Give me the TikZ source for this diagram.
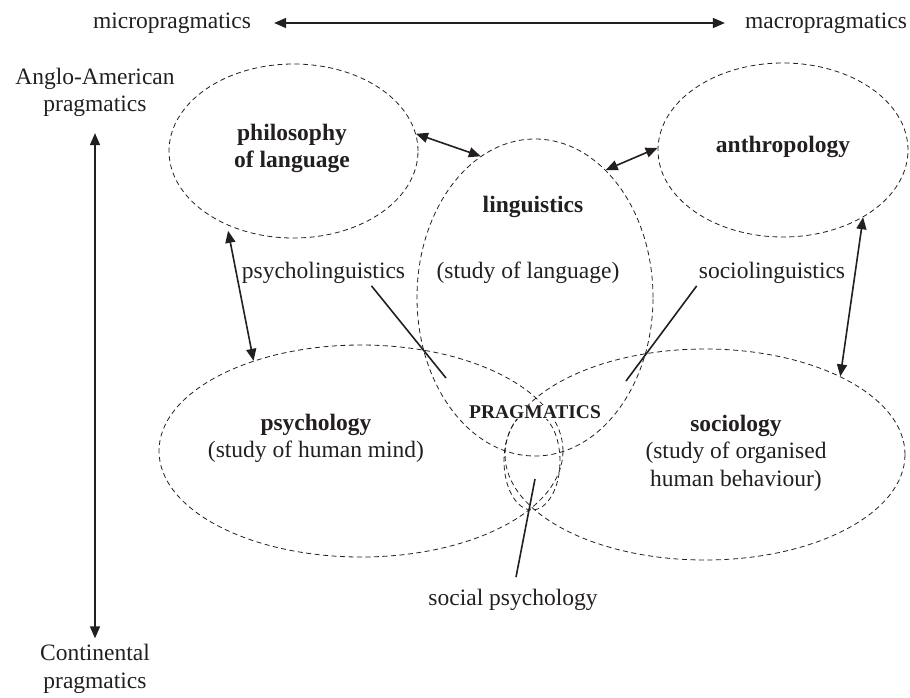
\documentclass[tikz,border=0pt]{standalone}
\usepackage{fontspec}
\setmainfont{Liberation Serif}
\usetikzlibrary{arrows.meta,shapes.geometric}
\definecolor{ink}{HTML}{231F20}
\tikzset{
	field/.style={draw=ink,ellipse,dash pattern=on 5pt off 3.5pt,line width=0.8pt,inner sep=0pt},
	lbl/.style={text=ink,font=\fontsize{23.5}{27.5}\selectfont,align=center,inner sep=2pt},
	lblb/.style={lbl,font=\fontsize{23.5}{27.5}\selectfont\bfseries},
	conn/.style={draw=ink,line width=1.6pt},
}
\begin{document}
\begin{tikzpicture}[>={Triangle[length=12pt,width=10pt]},x=1pt,y=-1pt]
	\useasboundingbox (0,0) rectangle (910,697);
	% axes
	\node[lbl] (micro) at (172,23) {micropragmatics};
	\node[lbl] (macro) at (826,23) {macropragmatics};
	\node[lbl] (anglo) at (95,92.5) {Anglo-American\\pragmatics};
	\node[lbl] (cont) at (95,669) {Continental\\pragmatics};
	\draw[conn,<->] ([xshift=21pt]micro.east) -- ([xshift=-18pt]macro.west);
	\draw[conn,<->] ([yshift=-14pt]anglo.south) -- ([yshift=4pt]cont.north);
	% fields
	\node[field,minimum width=249pt,minimum height=174pt] (phil) at (293.5,151) {};
	\node[field,minimum width=236pt,minimum height=317pt] (ling) at (535,297.5) {};
	\node[field,minimum width=250pt,minimum height=174pt] (anth) at (783,150) {};
	\node[field,minimum width=404pt,minimum height=212pt] (psy) at (361,451) {};
	\node[field,minimum width=400pt,minimum height=211pt] (soc) at (705,454.5) {};
	\node[field,minimum width=56pt,minimum height=98pt] (core) at (532,461) {};
	% names of the fields
	\node[lblb] (philT) at (292,148.5) {philosophy\\of language};
	\node[lblb] (lingT) at (533,207) {linguistics};
	\node[lbl] (lingS) at (528,273) {(study of language)};
	\node[lblb] (anthT) at (783,147) {anthropology};
	\node[lbl] (psyT) at (316,438.5) {\textbf{psychology}\\(study of human mind)};
	\node[lbl] (socT) at (736,453) {\textbf{sociology}\\(study of organised\\human behaviour)};
	\node[lbl,font=\fontsize{19.5}{23}\selectfont\bfseries,fill=white,inner sep=0.5pt] (prag) at (535,412) {PRAGMATICS};
	\node[lbl] (psyling) at (323.5,273) {psycholinguistics};
	\node[lbl] (socling) at (772,273) {sociolinguistics};
	\node[lbl] (socpsy) at (513,600) {social psychology};
	% links between fields
	\draw[conn,<->] (phil.8) -- (ling.111.7);
	\draw[conn,<->] (ling.61.3) -- (anth.179);
	\draw[conn,<->,shorten <=6pt] (phil.228) -- (psy.140);
	\draw[conn,<->] (anth.-40) -- (soc.30);
	% overlaps
	\coordinate (plEnd) at (446,378);
	\coordinate (slEnd) at (626,381);
	\coordinate (spEnd) at (535,479);
	\draw[conn] ([xshift=48pt]psyling.south) -- (plEnd);
	\draw[conn] (socling.south west) -- (slEnd);
	\draw[conn] ([xshift=3pt,yshift=10pt]socpsy.north) -- (spEnd);
\end{tikzpicture}
\end{document}
